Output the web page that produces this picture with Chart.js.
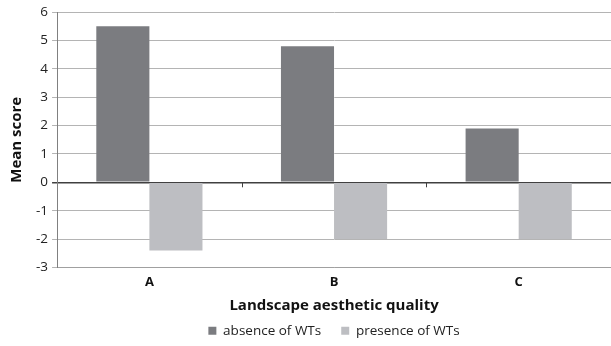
<!DOCTYPE html>
<html>
<head>
<meta charset="utf-8">
<script src="https://cdn.jsdelivr.net/npm/chart.js@4"></script>
<style>
  body { margin: 0; background: #fff; }
  #wrap { width: 611px; height: 346px; }
</style>
</head>
<body>
<div id="wrap"><canvas id="myChart"></canvas></div>
<script>
let labels = ["A", "B", "C"];
let absence = [5.5, 4.8, 1.9];
let presence = [-2.4, -2.0, -2.0];
let seriesNames = ["absence of WTs", "presence of WTs"];
let colorHex = ["#7b7c80", "#bdbec2"];

// small tick marks on the zero line between categories
let zeroTicks = {
  id: "zeroTicks",
  afterDatasetsDraw(chart) {
    let x = chart.scales.x, y = chart.scales.y;
    let y0 = y.getPixelForValue(0);
    let c = chart.ctx;
    c.save();
    c.strokeStyle = "#404040";
    c.lineWidth = 1;
    for (let i = 1; i < labels.length; i++) {
      let px = Math.round((x.getPixelForValue(i - 1) + x.getPixelForValue(i)) / 2) + 0.5;
      c.beginPath();
      c.moveTo(px, y0);
      c.lineTo(px, y0 + 5);
      c.stroke();
    }
    c.restore();
  }
};

// wide gap between legend items, but keep the legend short,
// and center it under the plot area
let legendSqueeze = {
  id: "legendSqueeze",
  afterInit(chart) {
    let lg = chart.legend;
    let fit = lg.fit;
    lg.fit = function () {
      fit.call(this);
      this.height = 30;
    };
  },
  afterLayout(chart) {
    let lg = chart.legend;
    lg.top -= 12;
    lg.height += 12;
    lg.left = chart.chartArea.left;
    lg.right = chart.chartArea.right;
    lg.width = lg.right - lg.left;
  }
};

let ctx = document.getElementById("myChart").getContext("2d");
new Chart(ctx, {
  type: "bar",
  data: {
    labels: labels,
    datasets: [
      { label: seriesNames[0], data: absence, backgroundColor: colorHex[0] },
      { label: seriesNames[1], data: presence, backgroundColor: colorHex[1] }
    ]
  },
  options: {
    responsive: true,
    maintainAspectRatio: false,
    animation: false,
    layout: { padding: { top: 6, right: 0, left: 4, bottom: 0 } },
    datasets: { bar: { barPercentage: 1, categoryPercentage: 0.575 } },
    plugins: {
      legend: {
        position: "bottom",
        labels: {
          boxWidth: 8, boxHeight: 8, padding: 20,
          color: "#222",
          font: { family: "Open Sans", size: 13.5 }
        }
      },
      tooltip: { enabled: false }
    },
    scales: {
      x: {
        grid: { display: false, drawTicks: false },
        border: { color: "#a0a0a0" },
        ticks: { color: "#111", padding: 7, font: { family: "Open Sans", size: 13, weight: "bold" } },
        title: {
          display: true, text: "Landscape aesthetic quality", color: "#111",
          padding: { top: 0, bottom: 1 },
          font: { family: "Open Sans", size: 15, weight: "bold" }
        }
      },
      y: {
        min: -3, max: 6,
        ticks: { stepSize: 1, color: "#222", padding: 4, font: { family: "Open Sans", size: 13.5 } },
        grid: {
          tickLength: 5,
          color: (c) => c.tick && c.tick.value === 0 ? "#404040" : "#b4b4b4",
          lineWidth: (c) => c.tick && c.tick.value === 0 ? 1.5 : 1
        },
        border: { color: "#808080" },
        title: {
          display: true, text: "Mean score", color: "#111",
          padding: { bottom: 6 },
          font: { family: "Open Sans", size: 15, weight: "bold" }
        }
      }
    }
  },
  plugins: [zeroTicks, legendSqueeze]
});
</script>
</body>
</html>
